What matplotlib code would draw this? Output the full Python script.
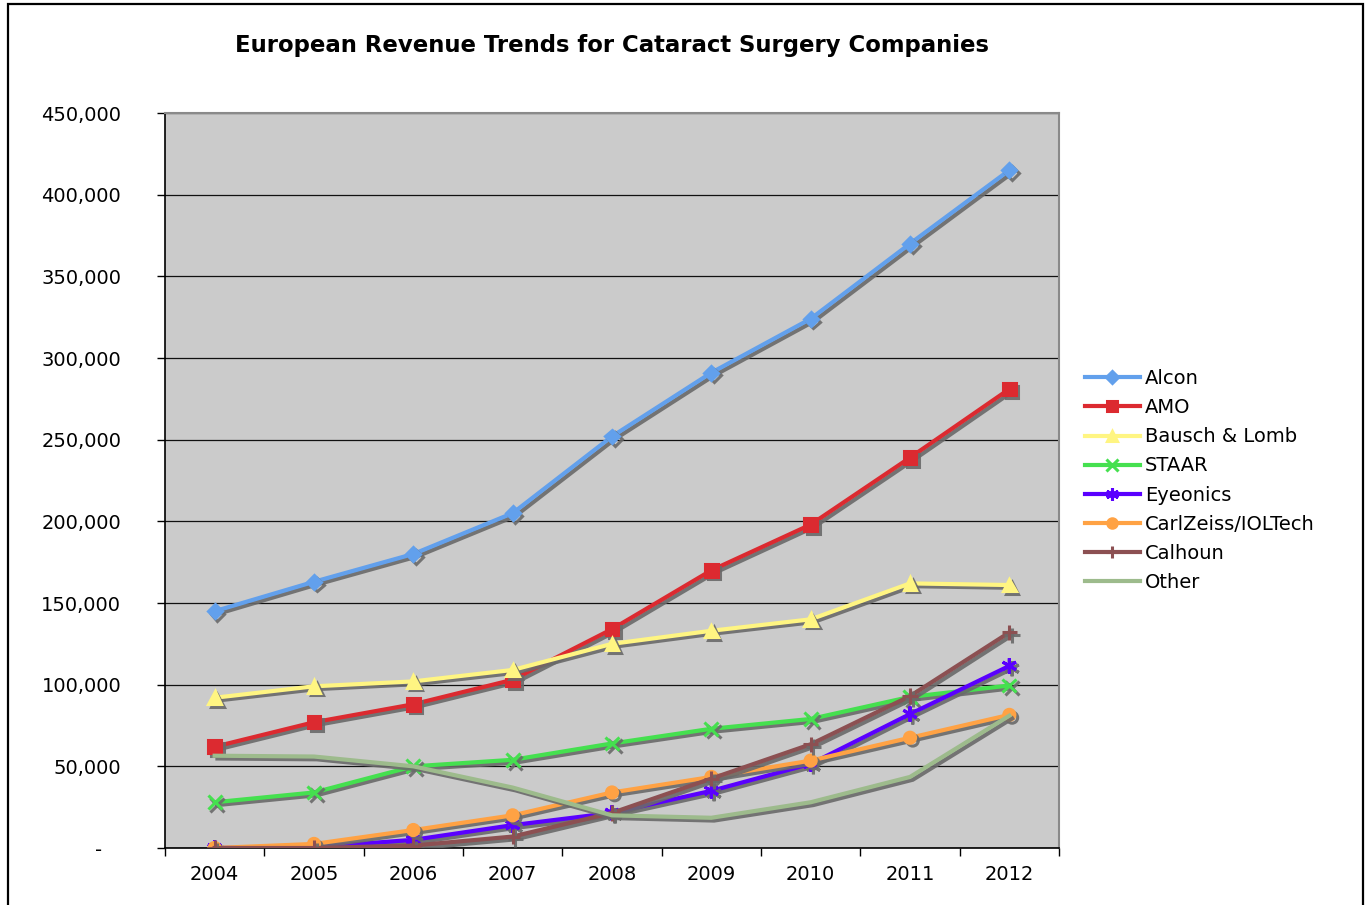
import matplotlib
matplotlib.use("Agg")
import matplotlib.pyplot as plt
import matplotlib.patheffects as pe
from matplotlib.patches import Rectangle
from matplotlib.ticker import FuncFormatter, FixedLocator

# Data
years = ["2004", "2005", "2006", "2007", "2008", "2009", "2010", "2011", "2012"]
alcon = [145000, 163000, 180000, 205000, 252000, 291000, 324000, 370000, 415000]
amo = [62000, 77000, 88000, 103000, 134000, 170000, 198000, 239000, 281000]
bausch = [92000, 99000, 102000, 109000, 125000, 133000, 140000, 162000, 161000]
staar = [28000, 34000, 50000, 54000, 64000, 73000, 79000, 92500, 99500]
eyeonics = [0, 500, 5000, 14000, 21500, 35000, 51500, 82000, 111500]
zeiss = [0, 2500, 11000, 20000, 34000, 43500, 53500, 67500, 81500]
calhoun = [0, 0, 1500, 7000, 21500, 42500, 63500, 93000, 132000]
other = [56500, 56000, 50000, 37000, 20000, 18500, 28000, 43500, 81000]

names = ["Alcon", "AMO", "Bausch & Lomb", "STAAR", "Eyeonics",
         "CarlZeiss/IOLTech", "Calhoun", "Other"]
series = [alcon, amo, bausch, staar, eyeonics, zeiss, calhoun, other]
colors = ["#62A0EC", "#DC2A30", "#FFF582", "#45E04F", "#5A00FF",
          "#FFA244", "#8C5052", "#9DBB8C"]
markers = ["D", "s", "^", "x", (6, 2, 0), "o", "+", None]
msizes = [7, 9, 9, 10, 11, 8, 11, 0]

fig = plt.figure(figsize=(13.71, 9.05), dpi=100)
ax = fig.add_axes([165 / 1371, 1 - 848 / 905, (1059 - 165) / 1371, (848 - 113) / 905])
ax.set_facecolor("#CBCBCB")

x = list(range(len(years)))
shadow = [pe.SimpleLineShadow(offset=(2, -2), shadow_color="#6A6A6A", alpha=0.9), pe.Normal()]
for vals, name, c, m, ms in zip(series, names, colors, markers, msizes):
    ax.plot(x, vals, color=c, lw=3, marker=m, markersize=ms, markeredgewidth=2.2,
            markerfacecolor=c, markeredgecolor=c, label=name,
            path_effects=shadow, solid_joinstyle="miter", zorder=3)

ax.set_xlim(-0.5, len(years) - 0.5)
ax.set_ylim(0, 450000)
ax.set_yticks(range(0, 450001, 50000))
ax.yaxis.set_major_formatter(FuncFormatter(lambda v, p: "-   " if v == 0 else f"{v:,.0f}"))
ax.grid(axis="y", color="#111111", lw=0.9)
ax.set_axisbelow(True)

ax.set_xticks(x)
ax.set_xticklabels(years)
ax.xaxis.set_minor_locator(FixedLocator([i - 0.5 for i in range(len(years) + 1)]))
ax.tick_params(axis="x", which="major", length=0, pad=12, labelsize=14)
ax.tick_params(axis="x", which="minor", length=6, width=1, color="black")
ax.tick_params(axis="y", length=6, width=1, pad=25.5, labelsize=14)

for s in ["top", "right"]:
    ax.spines[s].set_color("#8A8A8A")
    ax.spines[s].set_linewidth(1.5)
for s in ["left", "bottom"]:
    ax.spines[s].set_color("black")
    ax.spines[s].set_linewidth(1.2)

ax.set_title("European Revenue Trends for Cataract Surgery Companies",
             fontsize=16.4, fontweight="bold", pad=44)

leg = ax.legend(loc="center left", bbox_to_anchor=(1.02, 0.5), frameon=False,
                fontsize=14, handlelength=2.85, handletextpad=0.25, labelspacing=0.52,
                borderaxespad=0)
for h in leg.get_lines():
    h.set_path_effects([])
    h.set_markersize(h.get_markersize() * 0.85)

# outer chart border (bottom edge cut off in the original)
fig.add_artist(Rectangle((8 / 1371, -0.05), (1363 - 8) / 1371, 1.05 - 4 / 905,
                         transform=fig.transFigure, fill=False, ec="black", lw=1.6))

fig.savefig("out.png", dpi=100)
